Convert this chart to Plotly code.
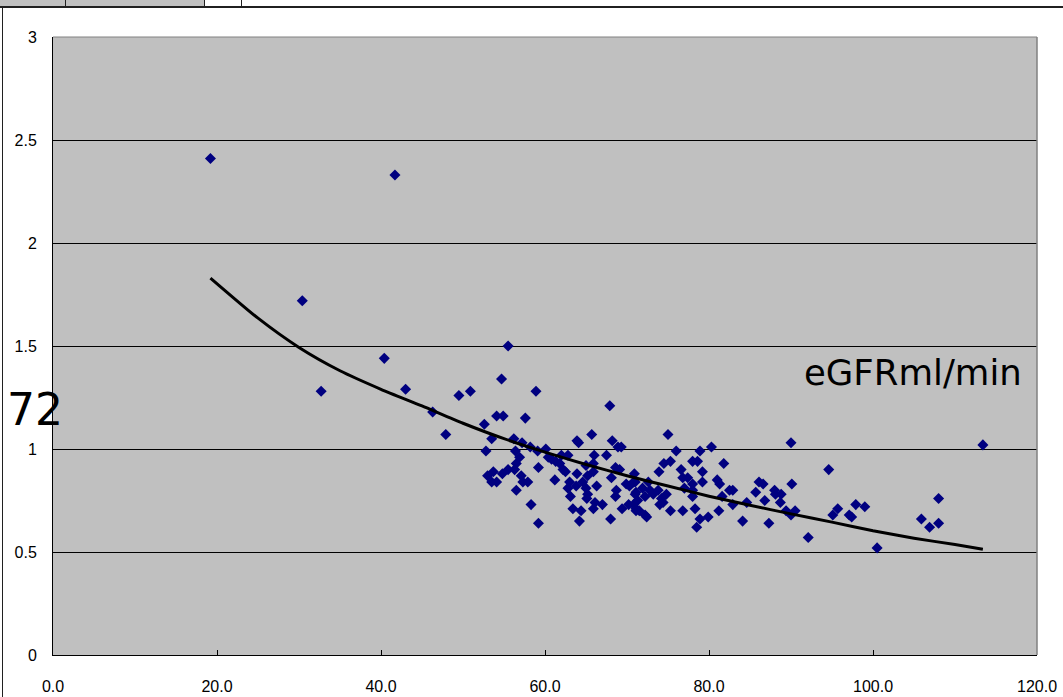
import plotly.graph_objects as go

# ---- data ----
egfr = [19.2, 41.7, 30.4, 32.7, 40.4, 43.0, 46.3, 47.9, 49.5, 50.9,
        55.5, 54.7, 58.9, 67.9, 52.6, 54.1, 54.9, 57.6, 53.5, 52.8,
        56.2, 56.4, 57.2, 58.2, 59.1, 60.1, 60.4, 61.3, 62.0, 62.8,
        56.9, 56.5, 55.5, 54.8, 53.7, 53.0, 53.5, 54.1, 56.3, 57.1,
        57.3, 57.9, 56.5, 59.2, 58.3, 59.2, 61.2, 62.2, 62.5, 63.9,
        63.9, 64.1, 65.7, 63.0, 62.8, 63.8, 63.1, 64.6, 65.0, 65.2,
        65.1, 65.0, 65.2, 65.9, 66.0, 65.9, 66.3, 66.1, 65.9, 67.0,
        63.4, 64.4, 64.2, 68.0, 67.5, 68.2, 68.9, 69.3, 68.1, 68.6,
        69.1, 68.7, 68.6, 69.4, 69.9, 70.3, 70.9, 71.0, 70.2, 71.0,
        71.1, 75.0, 76.0, 78.9, 80.3, 90.0, 74.5, 75.3, 73.9, 76.6,
        76.8, 77.4, 78.0, 78.6, 79.2, 79.2, 78.0, 78.0, 78.0, 77.0,
        81.8, 81.0, 81.3, 82.5, 82.9, 81.6, 82.9, 84.6, 81.2, 78.3,
        76.8, 75.3, 78.9, 78.5, 79.9, 84.1, 87.3, 85.7, 86.1, 86.6,
        86.8, 88.0, 88.1, 88.8, 88.7, 89.4, 90.0, 90.5, 90.1, 70.8,
        71.1, 71.3, 71.9, 72.2, 72.6, 72.8, 73.2, 73.8, 74.2, 74.4,
        74.8, 74.0, 71.1, 71.5, 72.2, 72.4, 70.8, 113.4, 94.6, 92.1,
        95.1, 95.7, 97.1, 97.4, 97.9, 99.0, 100.5, 105.9, 106.9, 108.0,
        108.0, 61.8, 60.8]
value = [2.41, 2.33, 1.72, 1.28, 1.44, 1.29, 1.18, 1.07, 1.26, 1.28,
         1.50, 1.34, 1.28, 1.21, 1.12, 1.16, 1.16, 1.15, 1.05, 0.99,
         1.05, 0.99, 1.03, 1.01, 0.99, 1.00, 0.96, 0.94, 0.97, 0.97,
         0.96, 0.93, 0.90, 0.88, 0.89, 0.87, 0.84, 0.84, 0.90, 0.87,
         0.84, 0.84, 0.80, 0.91, 0.73, 0.64, 0.85, 0.90, 0.89, 0.88,
         1.04, 1.03, 1.07, 0.84, 0.81, 0.82, 0.77, 0.84, 0.81, 0.78,
         0.76, 0.92, 0.87, 0.93, 0.97, 0.89, 0.82, 0.74, 0.71, 0.73,
         0.71, 0.70, 0.65, 0.66, 0.97, 1.04, 1.01, 1.01, 0.86, 0.91,
         0.90, 0.80, 0.77, 0.71, 0.83, 0.82, 0.88, 0.84, 0.73, 0.78,
         0.70, 1.07, 0.99, 0.99, 1.01, 1.03, 0.93, 0.94, 0.89, 0.90,
         0.86, 0.86, 0.94, 0.94, 0.89, 0.84, 0.83, 0.80, 0.77, 0.81,
         0.93, 0.85, 0.83, 0.80, 0.80, 0.77, 0.73, 0.74, 0.70, 0.71,
         0.70, 0.70, 0.66, 0.62, 0.67, 0.65, 0.64, 0.79, 0.84, 0.83,
         0.75, 0.80, 0.78, 0.78, 0.74, 0.70, 0.68, 0.70, 0.83, 0.84,
         0.79, 0.75, 0.81, 0.77, 0.84, 0.80, 0.78, 0.80, 0.76, 0.74,
         0.78, 0.73, 0.71, 0.70, 0.68, 0.67, 0.73, 1.02, 0.90, 0.57,
         0.68, 0.71, 0.68, 0.67, 0.73, 0.72, 0.52, 0.66, 0.62, 0.64,
         0.76, 0.93, 0.95]

trend_x = [19.2, 25, 30, 35, 40, 45, 50, 55, 60, 65, 70, 75, 80, 85,
           90, 95, 100, 105, 110, 113.4]
trend_y = [1.83, 1.635, 1.493, 1.38, 1.29, 1.209, 1.125, 1.05, 0.985,
           0.925, 0.87, 0.82, 0.771, 0.727, 0.685, 0.645, 0.603, 0.567,
           0.536, 0.513]

x_ticks = [0, 20, 40, 60, 80, 100, 120]
x_tick_text = ["0.0", "20.0", "40.0", "60.0", "80.0", "100.0", "120.0"]
y_ticks = [0, 0.5, 1, 1.5, 2, 2.5, 3]
y_tick_text = ["0", "0.5", "1", "1.5", "2", "2.5", "3"]

# ---- layout geometry (pixels) ----
W, H = 1063, 697
L, R, T, B = 53, 1037, 37, 655


def px(x):
    return (x - L) / (R - L)


def py(y):
    return (B - y) / (B - T)


fig = go.Figure()
fig.add_trace(go.Scatter(
    x=egfr, y=value, mode="markers",
    marker=dict(symbol="diamond", size=8.5, color="#000080",
                line=dict(width=0)),
    showlegend=False, cliponaxis=False))
fig.add_trace(go.Scatter(
    x=trend_x, y=trend_y, mode="lines",
    line=dict(color="black", width=3, shape="spline", smoothing=0.6),
    showlegend=False))

tick_font = dict(family="Liberation Sans, Arial, sans-serif", size=16,
                 color="black")

fig.update_xaxes(range=[0, 120], tickvals=x_ticks, ticktext=x_tick_text,
                 showgrid=False, zeroline=False, showline=True,
                 linecolor="black", linewidth=1, ticks="inside", ticklen=5,
                 tickcolor="black", tickfont=tick_font, mirror=False,
                 ticklabelstandoff=17, automargin=False, fixedrange=True)
fig.update_yaxes(range=[0, 3], tickvals=y_ticks, ticktext=y_tick_text,
                 showgrid=True, gridcolor="black", gridwidth=1,
                 zeroline=False, showline=True, linecolor="black",
                 linewidth=1, ticks="inside", ticklen=5, tickcolor="black",
                 tickfont=tick_font, ticklabelstandoff=12, automargin=False,
                 fixedrange=True)

shapes = []
# plot-area border (top/right in grey)
shapes.append(dict(type="line", xref="paper", yref="paper", x0=0, x1=1,
                   y0=1, y1=1, line=dict(color="#808080", width=1)))
shapes.append(dict(type="line", xref="paper", yref="paper", x0=1, x1=1,
                   y0=0, y1=1, line=dict(color="#808080", width=1.5)))
# outer frame lines
shapes.append(dict(type="line", xref="paper", yref="paper", x0=px(0),
                   x1=px(W), y0=py(7), y1=py(7),
                   line=dict(color="#202020", width=2)))
shapes.append(dict(type="line", xref="paper", yref="paper", x0=px(2.5),
                   x1=px(2.5), y0=py(7), y1=py(H),
                   line=dict(color="#202020", width=1)))
# top strip of cells
shapes.append(dict(type="rect", xref="paper", yref="paper", x0=px(0),
                   x1=px(65), y0=py(0), y1=py(6), fillcolor="#C0C0C0",
                   line=dict(width=0)))
shapes.append(dict(type="rect", xref="paper", yref="paper", x0=px(66),
                   x1=px(204), y0=py(0), y1=py(6), fillcolor="#C0C0C0",
                   line=dict(width=0)))
for xv in (65.5, 204.5, 241.5):
    shapes.append(dict(type="line", xref="paper", yref="paper", x0=px(xv),
                       x1=px(xv), y0=py(0), y1=py(7),
                       line=dict(color="#202020", width=1)))

annotations = [
    dict(text="eGFRml/min", x=91.3, y=1.37, xref="x", yref="y",
         xanchor="left", yanchor="middle", showarrow=False,
         font=dict(family="DejaVu Sans", size=35.5, color="black")),
    dict(text="72", x=px(5), y=1.19, xref="paper", yref="y",
         xanchor="left", yanchor="middle", showarrow=False,
         font=dict(family="DejaVu Sans", size=44, color="black")),
]

fig.update_layout(
    width=W, height=H, autosize=False,
    margin=dict(l=L, r=W - R, t=T, b=H - B, pad=0),
    paper_bgcolor="white", plot_bgcolor="#C0C0C0",
    shapes=shapes, annotations=annotations,
)

fig.write_html("out.html")
